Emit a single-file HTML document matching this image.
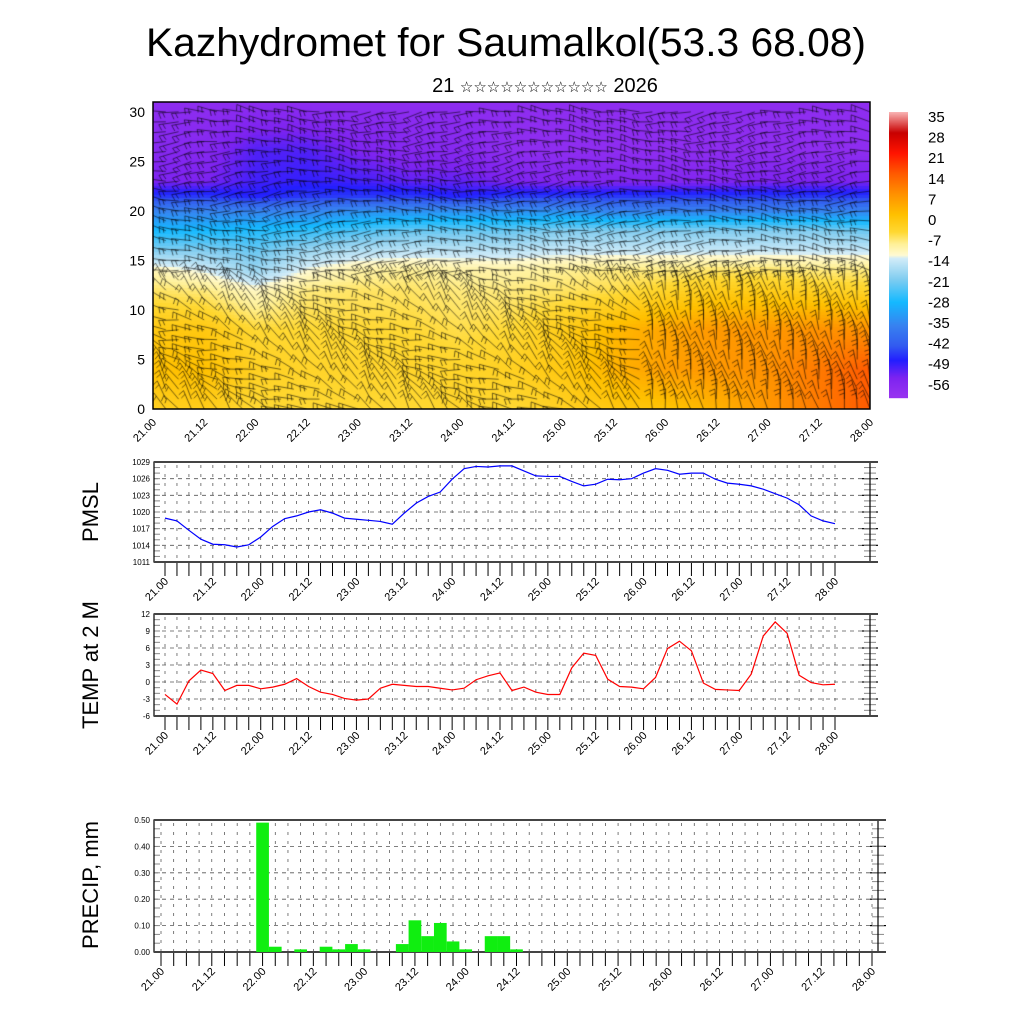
<!DOCTYPE html>
<html><head><meta charset="utf-8">
<style>
html,body{margin:0;padding:0;background:#fff;}
#wrap{position:relative;width:1024px;height:1024px;overflow:hidden;}
canvas,svg{position:absolute;left:0;top:0;}
text{font-family:"Liberation Sans",sans-serif;}
</style></head>
<body>
<div id="wrap">
<canvas id="field" width="1024" height="1024"></canvas>
<svg id="svg" width="1024" height="1024" xmlns="http://www.w3.org/2000/svg">
<text x="506" y="56" font-size="40" text-anchor="middle" textLength="720" lengthAdjust="spacingAndGlyphs">Kazhydromet for Saumalkol(53.3 68.08)</text>
<text x="545" y="92" font-size="20" text-anchor="middle">21 <tspan font-size="15" font-family="DejaVu Sans">☆☆☆☆☆☆☆☆☆☆☆</tspan> 2026</text>
</svg>
</div>
<script>
// ---------- data ----------
const pmslValues=[1018.9,1018.4,1016.7,1015.1,1014.2,1014.1,1013.7,1014.1,1015.5,1017.4,1018.8,1019.3,1020.0,1020.4,1019.8,1018.9,1018.7,1018.5,1018.3,1017.8,1019.8,1021.6,1022.8,1023.6,1025.9,1027.8,1028.2,1028.1,1028.3,1028.3,1027.4,1026.5,1026.4,1026.4,1025.5,1024.7,1025.0,1025.9,1025.8,1026.0,1027.0,1027.8,1027.5,1026.8,1027.0,1027.0,1025.9,1025.2,1025.0,1024.7,1024.1,1023.3,1022.5,1021.3,1019.3,1018.4,1017.9];
const tempValues=[-2.2,-3.9,0.2,2.1,1.5,-1.5,-0.6,-0.6,-1.2,-0.9,-0.4,0.6,-0.8,-1.8,-2.2,-2.9,-3.2,-3.0,-1.1,-0.4,-0.6,-0.8,-0.8,-1.1,-1.4,-1.1,0.4,1.1,1.6,-1.5,-0.9,-1.8,-2.2,-2.2,2.5,5.1,4.7,0.5,-0.8,-0.9,-1.2,0.8,5.9,7.2,5.5,-0.2,-1.3,-1.4,-1.5,1.4,8.1,10.6,8.6,1.2,-0.1,-0.5,-0.4];
const precipIndex=[8,9,11,13,14,15,16,19,20,21,22,23,24,26,27,28];
const precipValues=[0.49,0.02,0.01,0.02,0.01,0.03,0.01,0.03,0.12,0.06,0.11,0.04,0.01,0.06,0.06,0.01];
const xTickLabels=["21.00","21.12","22.00","22.12","23.00","23.12","24.00","24.12","25.00","25.12","26.00","26.12","27.00","27.12","28.00"];
const pmslTicks=[1011,1014,1017,1020,1023,1026,1029];
const tempTicks=[-6,-3,0,3,6,9,12];
const precipTicks=[0,0.1,0.2,0.3,0.4,0.5];
const precipTickLabels=["0.00","0.10","0.20","0.30","0.40","0.50"];
const heightTicks=[0,5,10,15,20,25,30];
const colorbarLabels=[35,28,21,14,7,0,-7,-14,-21,-28,-35,-42,-49,-56];
// temperature cross-section control grid (levels x half-day columns)
const fieldLevels=[0,4,8,12,14,16,18,20,21.5,23,26,31];
const fieldT=[
[-4,-3,-6,-6,-6,-6,-5,-6,-4,-2,-1,2,6,10,14],
[0,0,-4,-5,-5,-5,-5,-4,-2,2,5,6,7,10,14],
[-2,-2,-6,-6,-6,-6,-7,-6,-3,1,4,6,6,7,7],
[-8,-9,-13,-9,-8,-8,-9,-9,-8,-7,-5,-3,-3,-4,-5],
[-12,-15,-20,-14,-11,-10,-11,-11,-10,-9,-9,-8,-8,-9,-9],
[-22,-22,-24,-20,-18,-17,-17,-17,-16,-16,-16,-16,-16,-16,-16],
[-30,-30,-29,-28,-26,-24,-24,-24,-22,-22,-22,-22,-22,-22,-24],
[-38,-38,-38,-38,-36,-36,-36,-36,-36,-38,-38,-38,-38,-38,-38],
[-48,-48,-50,-48,-48,-48,-50,-48,-48,-48,-48,-48,-48,-48,-48],
[-56,-56,-52,-51,-52,-54,-54,-56,-57,-57,-57,-57,-56,-56,-56],
[-58,-58,-53,-53,-56,-58,-58,-60,-60,-60,-60,-60,-60,-60,-60],
[-60,-60,-60,-60,-60,-60,-60,-60,-60,-60,-60,-60,-60,-60,-60]];

const NS="http://www.w3.org/2000/svg";
const svg=document.getElementById('svg');
function el(tag,attrs,parent){const e=document.createElementNS(NS,tag);for(const k in attrs)e.setAttribute(k,attrs[k]);(parent||svg).appendChild(e);return e;}

// ---------- colormap ----------
const cstops=[[-62,[150,50,240]],[-56,[125,35,240]],[-50,[35,30,255]],[-45,[50,90,240]],[-38,[55,130,240]],[-30,[20,185,255]],[-22,[130,205,240]],[-15,[210,236,248]],[-13.9,[255,250,210]],[-10,[255,240,150]],[-6,[255,216,50]],[0,[255,192,0]],[7,[255,145,0]],[14,[255,90,0]],[21,[255,20,0]],[28,[200,0,0]],[35,[248,176,176]]];
function cmap(t){if(t<=cstops[0][0])return cstops[0][1];for(let i=1;i<cstops.length;i++){if(t<=cstops[i][0]){const a=cstops[i-1],b=cstops[i];const f=(t-a[0])/(b[0]-a[0]);return a[1].map((v,j)=>Math.round(v+(b[1][j]-v)*f));}}return cstops[cstops.length-1][1];}

// ---------- top panel ----------
const TL=153,TR=870,TT=102,TB=409;
const hY=h=>TB-(h/31)*(TB-TT);
const dX=d=>TL+d/7*(TR-TL);
function fieldAt(d,h){
  let c=d*2;c=Math.max(0,Math.min(13.999,c));const ci=Math.floor(c),cf=c-ci;
  let li=0;while(li<fieldLevels.length-2&&h>fieldLevels[li+1])li++;
  const lf=Math.max(0,Math.min(1,(h-fieldLevels[li])/(fieldLevels[li+1]-fieldLevels[li])));
  const a=fieldT[li][ci]*(1-cf)+fieldT[li][ci+1]*cf;
  const b=fieldT[li+1][ci]*(1-cf)+fieldT[li+1][ci+1]*cf;
  return a*(1-lf)+b*lf;
}
const cv=document.getElementById('field');const ctx=cv.getContext('2d');
for(let x=TL;x<TR;x+=3){for(let y=TT;y<TB;y+=3){
  const d=(x+1.5-TL)/(TR-TL)*7,h=(TB-(y+1.5))/(TB-TT)*31;
  const c=cmap(fieldAt(d,h));ctx.fillStyle=`rgb(${c[0]},${c[1]},${c[2]})`;ctx.fillRect(x,y,3,3);
}}
// wind barbs texture
ctx.strokeStyle='rgba(0,0,0,0.7)';ctx.lineWidth=0.8;
for(let i=0;i<=56;i++){for(let k=0;k<=30;k++){
  const d=i/8,h=k;const x=dX(d),y=hY(h);
  let ang;
  if(h>=14) ang=0.25*Math.sin(d*2.1+h*0.4)+0.15*Math.sin(i*1.7);
  else if(d>4.8) ang=1.35+0.25*Math.sin(i*1.3+k);
  else ang=0.6+0.5*Math.sin(d*3+h*0.5)+0.2*Math.sin(i*2.3);
  const L=20;const ux=Math.cos(ang),uy=Math.sin(ang);
  ctx.beginPath();ctx.moveTo(x,y);ctx.lineTo(x-ux*L,y-uy*L);
  const bx=x-ux*L,by=y-uy*L;ctx.moveTo(bx,by);ctx.lineTo(bx-uy*6+ux*2,by+ux*6+uy*2);
  ctx.moveTo(bx+ux*4,by+uy*4);ctx.lineTo(bx+ux*4-uy*5+ux*2,by+uy*4+ux*5+uy*2);
  ctx.stroke();
}}
ctx.save();ctx.globalCompositeOperation='destination-in';ctx.fillRect(TL,TT,TR-TL,TB-TT);ctx.restore();
el('rect',{x:TL,y:TT,width:TR-TL,height:TB-TT,fill:'none',stroke:'#000','stroke-width':1.5,});
heightTicks.forEach(h=>{const y=hY(h);
  const t=el('text',{x:TL-8,y:y+5,'font-size':14,'text-anchor':'end'});t.textContent=h;
  
  });
xTickLabels.forEach((s,i)=>{const x=dX(i/2);
  const t=el('text',{x:0,y:0,'font-size':11,'text-anchor':'end',transform:`translate(${x+4},${TB+14}) rotate(-45)`});t.textContent=s;
  
  });
// colorbar
const CB={x:889,w:19,top:112,bot:398};
for(let y=CB.top;y<CB.bot;y++){const t=35-(y-CB.top)/(CB.bot-CB.top)*(35+63);const c=cmap(t);
  const r=el('rect',{x:CB.x,y:y,width:CB.w,height:1.2,fill:`rgb(${c[0]},${c[1]},${c[2]})`});
  
  }
colorbarLabels.forEach((v,i)=>{const y=117+i*20.6;
  const t=el('text',{x:928,y:y+5,'font-size':15});t.textContent=v;
  
  });

// ---------- line panels ----------
function panel(cfg){
  const {L,R,T,B,x0,x1,ymin,ymax,ticks,labels,name,title,titleY}=cfg;
  const xs=i=>x0+i*(x1-x0)/56, ys=v=>B-(v-ymin)/(ymax-ymin)*(B-T);
  const g=el('g',{});
  for(let i=0;i<=56;i++){const x=xs(i);
    el('line',{x1:x,x2:x,y1:T+3,y2:B,stroke:'#444','stroke-width':0.7,'stroke-dasharray':'3,6'},g);
    el('line',{x1:x,x2:x,y1:B,y2:B+14,stroke:'#000','stroke-width':1},g);}
  ticks.forEach((v,k)=>{const y=ys(v);
    el('line',{x1:L,x2:R,y1:y,y2:y,stroke:'#555','stroke-width':0.8,'stroke-dasharray':'4,4'},g);
    el('line',{x1:R-8,x2:R+8,y1:y,y2:y,stroke:'#000','stroke-width':1.2},g);
    const t=el('text',{x:L-4,y:y+3,'font-size':8,'text-anchor':'end'},g);t.textContent=labels[k];
    
    });
  const minor=(ymax-ymin)/((ticks.length-1)*3);
  for(let v=ymin;v<=ymax+1e-9;v+=minor){const y=ys(v);
    el('line',{x1:L,x2:L+6,y1:y,y2:y,stroke:'#888','stroke-width':1},g);
    el('line',{x1:R-6,x2:R+6,y1:y,y2:y,stroke:'#888','stroke-width':1},g);}
  el('rect',{x:L,y:T,width:R-L,height:B-T,fill:'none',stroke:'#000','stroke-width':1.2},g);
  el('line',{x1:L,x2:R+8,y1:T,y2:T,stroke:'#444','stroke-width':2},g);
  el('line',{x1:L,x2:R+8,y1:B,y2:B,stroke:'#444','stroke-width':2},g);
  xTickLabels.forEach((s,i)=>{const x=xs(i*4);
    const t=el('text',{x:0,y:0,'font-size':11,'text-anchor':'end',transform:`translate(${x+4},${B+20}) rotate(-45)`},g);t.textContent=s;
    
    });
  const tt=el('text',{x:0,y:0,'font-size':22,'text-anchor':'middle',transform:`translate(98,${titleY}) rotate(-90)`},g);tt.textContent=title;
  
  
  return {xs,ys,g};
}
const p1=panel({L:154,R:870,T:462,B:562,x0:165,x1:835,ymin:1011,ymax:1029,ticks:pmslTicks,labels:pmslTicks,name:'pmsl',title:'PMSL',titleY:512});
const pl=el('polyline',{points:pmslValues.map((v,i)=>p1.xs(i)+','+p1.ys(v)).join(' '),fill:'none',stroke:'#0000ff','stroke-width':1.2},p1.g);


const p2=panel({L:154,R:870,T:614,B:716,x0:165,x1:835,ymin:-6,ymax:12,ticks:tempTicks,labels:tempTicks,name:'temp',title:'TEMP at 2 M',titleY:665});
const tl=el('polyline',{points:tempValues.map((v,i)=>p2.xs(i)+','+p2.ys(v)).join(' '),fill:'none',stroke:'#ff0000','stroke-width':1.2},p2.g);


const p3=panel({L:154,R:878,T:820,B:952,x0:161,x1:872,ymin:0,ymax:0.5,ticks:precipTicks,labels:precipTickLabels,name:'precip',title:'PRECIP, mm',titleY:885});
const bw=(872-161)/56;
precipIndex.forEach((idx,k)=>{const x=p3.xs(idx)-bw/2,y=p3.ys(precipValues[k]);
  const r=el('rect',{x:x,y:y,width:bw,height:952-y,fill:'#10ee10'},p3.g);
  
  });
</script>
</body></html>
